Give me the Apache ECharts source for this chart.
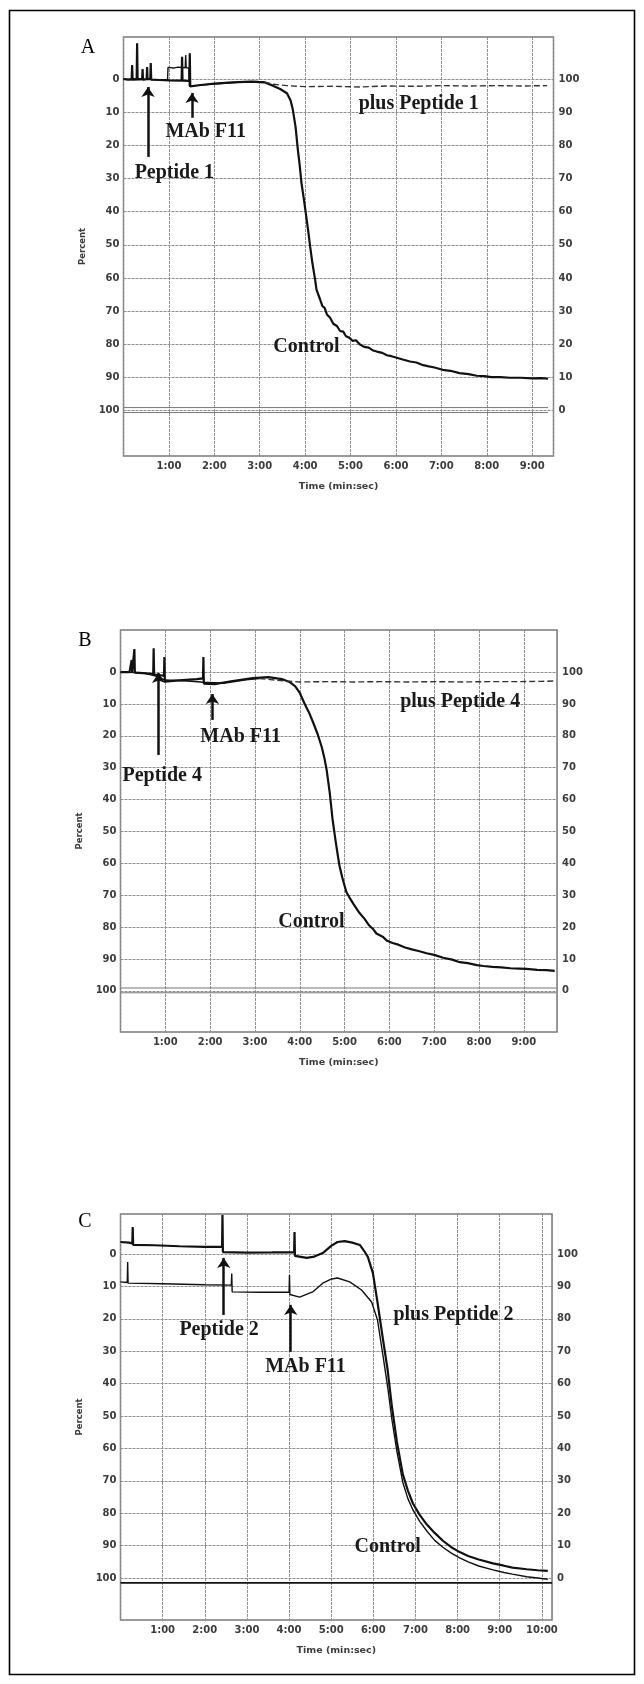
<!DOCTYPE html>
<html><head><meta charset="utf-8">
<script src="https://cdn.jsdelivr.net/npm/echarts@6/dist/echarts.min.js"></script>
<style>html,body{margin:0;padding:0;background:#fff}#c{width:644px;height:1684px}</style>
</head><body><div id="c"></div>
<script>
// ---------- DATA ----------
const yTicks = [0, 10, 20, 30, 40, 50, 60, 70, 80, 90, 100];
const panelLetters = ['A', 'B', 'C'];
const xAxisTitle = 'Time (min:sec)';
const yAxisTitle = 'Percent';

// Panel A (time in minutes, percent)
const controlA = [[0,0],[0.1,0.2],[0.18,0],[0.19,-4.2],[0.2,0],[0.29,0],[0.3,-10.8],[0.31,0],[0.41,0],[0.42,-3],[0.43,0.2],[0.51,0],[0.52,-3.6],[0.53,0],[0.59,0],[0.6,-4.8],[0.61,0.2],[0.8,0.3],[1.0,0.4],[1.28,0.5],[1.29,-6.7],[1.3,0.5],[1.45,0.6],[1.46,-7.8],[1.47,2.2],[1.7,1.8],[2.0,1.4],[2.4,1.0],[2.8,0.8],[3.1,1.0],[3.29,2.0],[3.45,3.0],[3.6,4.3],[3.68,6.5],[3.73,9.3],[3.79,14.5],[3.84,21.4],[3.88,26],[3.92,31.4],[3.97,36],[4.02,41],[4.07,46],[4.11,50.5],[4.16,55.5],[4.22,60.5],[4.25,63.5],[4.28,64],[4.33,66.5],[4.38,68.5],[4.43,69],[4.48,71],[4.55,72],[4.62,73.8],[4.7,74.5],[4.77,76],[4.84,76.2],[4.9,77.6],[4.97,78],[5.05,79],[5.12,78.8],[5.2,80],[5.3,80.8],[5.4,81],[5.5,81.9],[5.58,82.2],[5.7,82.6],[5.8,83.3],[5.9,83.6],[6.0,84],[6.15,84.6],[6.31,85.2],[6.45,85.5],[6.6,86.3],[6.7,86.6],[6.85,87],[7.03,87.7],[7.2,88],[7.4,88.7],[7.6,89],[7.78,89.5],[7.95,89.6],[8.1,89.9],[8.3,89.9],[8.51,90.1],[8.75,90.1],[9.0,90.3],[9.2,90.2],[9.35,90.4]];
const peptide1EarlyA = [[0,0],[0.2,0.3],[0.5,0.2],[0.97,0.2],[0.98,-3.5],[1.1,-3.3],[1.2,-3.6],[1.36,-3.4],[1.37,-7.2],[1.38,-3.4],[1.44,-3.3],[1.45,2.2],[1.6,2.0],[1.9,1.6],[2.3,1.2],[2.6,0.9],[2.9,0.7],[3.1,0.9]];
const peptide1LateA = [[3.1,0.9],[3.3,1.6],[3.6,2.0],[4.0,2.3],[4.6,2.2],[5.2,2.4],[5.8,2.1],[6.4,2.2],[7.0,2.0],[7.6,2.1],[8.2,2.0],[8.8,2.1],[9.33,2.0]];
const baseLowA = [[0,99.1],[9.35,99.1]];
const baseHighA = [[0,100.6],[9.35,100.6]];
const arrowsA = [[0.54,23.5,2.4],[1.51,11.7,4.2]];           // x, tail, tip
const notesA = [['plus Peptide 1',6.5,7.5],['MAb F11',1.81,16],['Peptide 1',1.12,28.3],['Control',4.03,80.7]];

// Panel B
const controlB = [[0,0],[0.2,0],[0.24,0],[0.25,-3.8],[0.26,0],[0.3,0],[0.31,-7.2],[0.32,0.2],[0.5,0.3],[0.73,0.6],[0.74,-7.5],[0.75,0.8],[0.9,1.0],[0.97,1.2],[0.98,-4.7],[0.99,3.0],[1.3,2.6],[1.7,2.2],[1.84,2.0],[1.85,-4.7],[1.86,3.6],[2.1,3.8],[2.5,2.8],[2.95,1.9],[3.3,1.6],[3.6,2.2],[3.77,3.1],[3.9,4.5],[4.0,6.5],[4.1,9.7],[4.2,12.5],[4.29,15.5],[4.4,19.5],[4.49,23.5],[4.55,27],[4.6,30.7],[4.67,38],[4.73,46],[4.8,53],[4.86,58.5],[4.89,61],[4.95,64.5],[5.0,67],[5.04,69],[5.1,70.5],[5.2,72.8],[5.33,75.5],[5.45,77.5],[5.55,79.5],[5.63,80.5],[5.71,82],[5.85,83],[5.95,84.3],[6.07,85],[6.2,85.5],[6.35,86.4],[6.5,87],[6.65,87.5],[6.83,88.2],[7.0,88.7],[7.2,89.6],[7.4,90.2],[7.57,91],[7.75,91.3],[7.95,91.9],[8.1,92.2],[8.3,92.5],[8.5,92.6],[8.7,92.9],[8.9,93],[9.06,93.1],[9.3,93.4],[9.5,93.5],[9.69,93.7]];
const peptide4EarlyB = [[0,0],[0.5,0.2],[0.85,1.5],[0.99,2.5],[1.5,2.8],[1.86,3.2],[2.3,3.5],[2.8,2.4],[3.1,2.0]];
const peptide4LateB = [[3.1,2.0],[3.5,2.6],[4.0,3.1],[4.6,3.0],[5.2,3.1],[5.8,3.0],[6.4,3.1],[7.0,3.0],[7.6,3.1],[8.2,3.0],[8.8,3.0],[9.4,2.9],[9.7,2.8]];
const baseLowB = [[0,99.1],[9.72,99.1]];
const baseHighB = [[0,100.6],[9.72,100.6]];
const arrowsB = [[0.85,26,0.3],[2.05,15,6.9]];
const notesB = [['plus Peptide 4',7.58,9.4],['MAb F11',2.68,20.4],['Peptide 4',0.93,32.6],['Control',4.26,78.4]];

// Panel C
const upperC = [[0,-3.7],[0.2,-3.5],[0.28,-3.3],[0.29,-8.3],[0.3,-2.8],[0.8,-2.7],[1.4,-2.4],[2.0,-2.2],[2.41,-2.2],[2.42,-12],[2.43,-0.6],[3.0,-0.4],[3.6,-0.5],[4.12,-0.6],[4.13,-6.8],[4.14,0.6],[4.42,1.2],[4.6,0.8],[4.8,-0.3],[5.0,-2.5],[5.15,-3.7],[5.32,-4.0],[5.5,-3.5],[5.68,-2.8],[5.78,-1],[5.87,0.9],[5.99,5.9],[6.1,15],[6.22,25.6],[6.34,35.8],[6.44,47],[6.56,58],[6.7,68],[6.82,73],[6.94,77],[7.1,80.5],[7.27,83.5],[7.45,86],[7.65,88.5],[7.85,90.5],[8.05,92],[8.25,93.2],[8.5,94.3],[8.84,95.5],[9.1,96.2],[9.3,96.8],[9.64,97.3],[9.9,97.6],[10.14,97.8]];
const lowerC = [[0,8.6],[0.16,8.8],[0.17,2.5],[0.18,9],[1.0,9.2],[2.0,9.5],[2.63,9.6],[2.64,6],[2.65,11.7],[3.3,11.8],[4.0,11.8],[4.01,6.5],[4.02,12.5],[4.25,13.3],[4.56,11.7],[4.8,9],[5.01,7.7],[5.15,7.4],[5.44,8.6],[5.72,11.1],[5.96,14.8],[6.1,20.4],[6.22,30.6],[6.34,41],[6.44,51],[6.56,61],[6.7,70.5],[6.82,75.5],[6.94,79],[7.1,82.5],[7.27,85.5],[7.45,88.3],[7.65,90.5],[7.85,92.3],[8.05,93.8],[8.25,95],[8.5,96.3],[8.84,97.5],[9.1,98.3],[9.3,98.8],[9.64,99.6],[9.9,100],[10.14,100.4]];
const baseC = [[0,101.5],[10.24,101.5]];
const arrowsC = [[2.45,18.8,1.2],[4.04,30.2,15.7]];
const notesC = [['plus Peptide 2',7.9,18.8],['Peptide 2',2.34,23.5],['MAb F11',4.39,34.9],['Control',6.34,90.4]];

// ---------- LAYOUT ----------
const panels = [
  {grid:{left:123.5, top:37, width:430, height:419}, x:[0,9.47], y:[-12.67,113.7], letter:[88,48],
   lines:[{d:controlA,w:2.2},{d:peptide1EarlyA,w:1.4},{d:peptide1LateA,w:1.4,dash:[6,3],c:'#333'},{d:baseLowA,w:1,c:'#777'},{d:baseHighA,w:1,c:'#777'}],
   arrows:arrowsA, notes:notesA},
  {grid:{left:120.5, top:630, width:436.5, height:402}, x:[0,9.74], y:[-13.2,112.9], letter:[85,641],
   lines:[{d:controlB,w:2.2},{d:peptide4EarlyB,w:1.4},{d:peptide4LateB,w:1.4,dash:[6,3],c:'#333'},{d:baseLowB,w:1,c:'#777'},{d:baseHighB,w:1,c:'#777'}],
   arrows:arrowsB, notes:notesB},
  {grid:{left:120.5, top:1214, width:431.5, height:406}, x:[0,10.24], y:[-12.35,112.96], letter:[85,1222],
   lines:[{d:upperC,w:2.2},{d:lowerC,w:1.4},{d:baseC,w:1.6}],
   arrows:arrowsC, notes:notesC}
];

const tickFont = {fontFamily:'DejaVu Sans', fontSize:10, fontWeight:'bold', color:'#3c3c3c'};
const gridLine = {show:true, lineStyle:{color:'#8f8f8f', width:1, type:[3,1]}};

const grids = [], xAxes = [], yAxes = [], series = [], graphics = [];
panels.forEach((p, i) => {
  grids.push(Object.assign({show:true, borderColor:'#7a7a7a', borderWidth:1.5, backgroundColor:'transparent'}, p.grid));
  xAxes.push({gridIndex:i, type:'value', min:p.x[0], max:p.x[1], interval:1,
    axisLine:{show:false}, axisTick:{show:false}, splitLine:gridLine,
    axisLabel:Object.assign({margin:5, showMinLabel:false, formatter:v => (Number.isInteger(v) && v > 0) ? v + ':00' : ''}, tickFont),
    name:xAxisTitle, nameLocation:'middle', nameGap:26,
    nameTextStyle:{fontFamily:'DejaVu Sans', fontSize:9.5, fontWeight:'bold', color:'#3c3c3c'}});
  yAxes.push({gridIndex:i, type:'value', inverse:true, min:p.y[0], max:p.y[1], position:'left',
    axisLine:{show:false}, axisTick:{show:false, customValues:yTicks}, splitLine:gridLine,
    axisLabel:Object.assign({margin:4, customValues:yTicks, formatter:v => String(v)}, tickFont),
    name:yAxisTitle, nameLocation:'middle', nameGap:25, nameRotate:90,
    nameTextStyle:{fontFamily:'DejaVu Sans', fontSize:8.5, fontWeight:'bold', color:'#3c3c3c'}});
  yAxes.push({gridIndex:i, type:'value', inverse:true, min:p.y[0], max:p.y[1], position:'right',
    axisLine:{show:false}, axisTick:{show:false, customValues:yTicks}, splitLine:{show:false},
    axisLabel:Object.assign({margin:5, customValues:yTicks, formatter:v => String(100 - v)}, tickFont)});
  p.lines.forEach(l => series.push({type:'line', xAxisIndex:i, yAxisIndex:2*i, data:l.d, symbol:'none', silent:true,
    lineStyle:{color:l.c || '#111', width:l.w, type:l.dash || 'solid'}, z:3}));
  series.push({type:'line', xAxisIndex:i, yAxisIndex:2*i, data:[], symbol:'none', silent:true,
    markLine:{silent:true, symbol:['none','arrow'], symbolSize:10, label:{show:false},
      lineStyle:{color:'#111', width:2.5, type:'solid'},
      data:p.arrows.map(a => [{coord:[a[0], a[1]]}, {coord:[a[0], a[2]]}])},
    markPoint:{silent:true, symbol:'circle', symbolSize:0,
      data:p.notes.map(n => ({coord:[n[1], n[2]], value:n[0],
        label:{show:true, position:'inside', formatter:n[0], fontFamily:'Liberation Serif', fontWeight:'bold', fontSize:20, color:'#1a1a1a'}}))}});
  graphics.push({type:'text', x:p.letter[0], y:p.letter[1], style:{text:panelLetters[i], font:'20px "Liberation Serif"', fill:'#000', textAlign:'center', textVerticalAlign:'middle'}});
});
graphics.push({type:'rect', shape:{x:9.5, y:10.5, width:625, height:1664}, style:{fill:'none', stroke:'#000', lineWidth:1.6}});

const chart = echarts.init(document.getElementById('c'), null, {renderer:'canvas'});
chart.setOption({animation:false, grid:grids, xAxis:xAxes, yAxis:yAxes, series:series, graphic:graphics});
</script></body></html>
